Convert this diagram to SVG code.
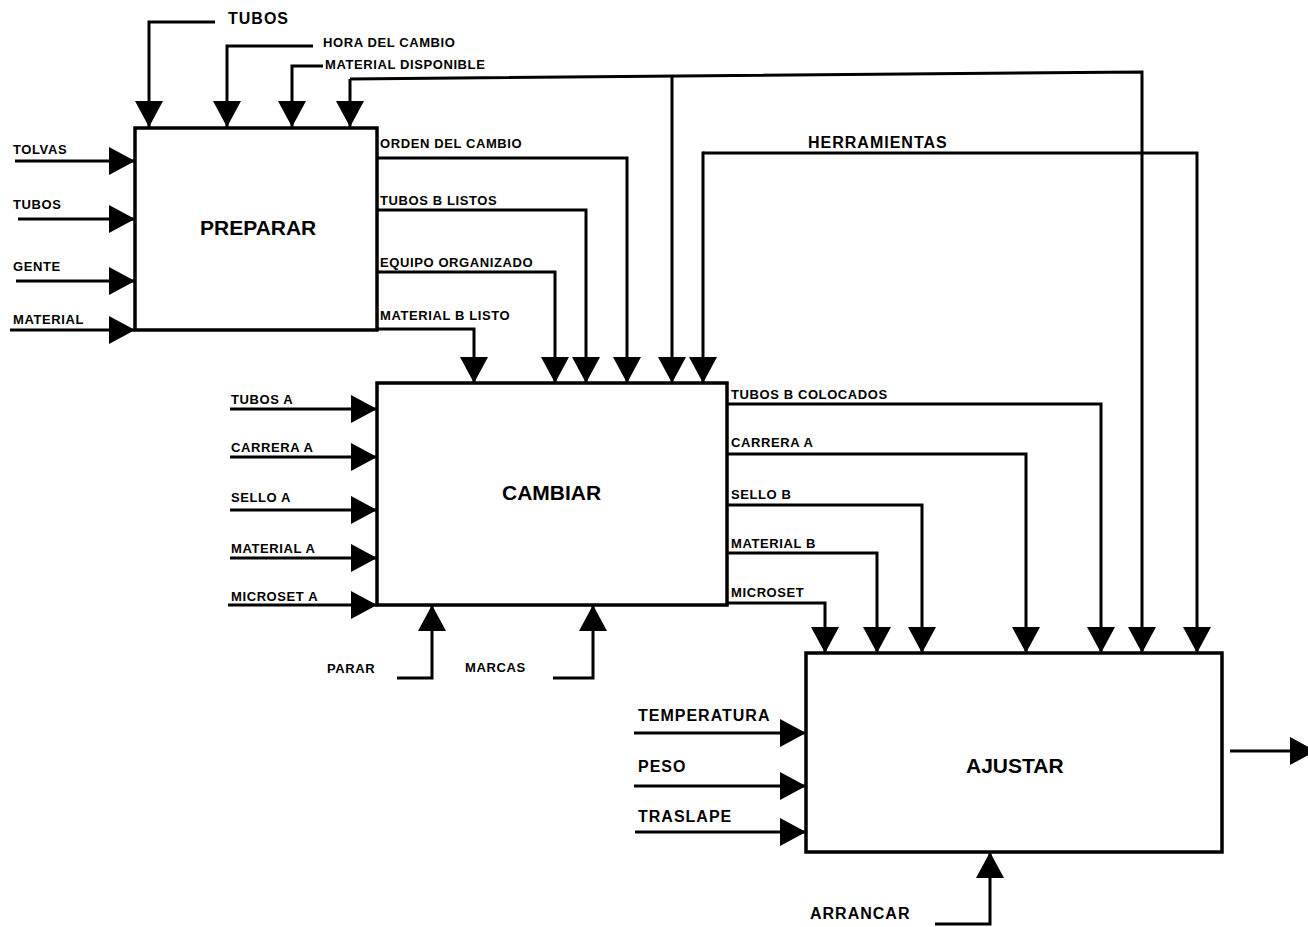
<svg xmlns="http://www.w3.org/2000/svg" width="1308" height="927" viewBox="0 0 1308 927">
<style>
  .box { fill: #fff; stroke: #000; stroke-width: 3.5; }
  .ln { fill: none; stroke: #000; stroke-width: 3; }
  .lbl { font-family: "Liberation Sans", Arial, sans-serif; font-weight: bold; font-size: 13px; letter-spacing: 0.6px; fill: #000; }
  .big { font-family: "Liberation Sans", Arial, sans-serif; font-weight: bold; font-size: 16px; letter-spacing: 1px; fill: #000; }
  .title { font-family: "Liberation Sans", Arial, sans-serif; font-weight: bold; font-size: 21px; fill: #000; }
</style>
<defs>
  <marker id="ah" markerUnits="userSpaceOnUse" markerWidth="26" markerHeight="28" viewBox="0 0 26 28" refX="26" refY="14" orient="auto">
    <path d="M0,0 L26,14 L0,28 Z" fill="#000"/>
  </marker>
</defs>
<rect width="1308" height="927" fill="#fff"/>

<g id="connectors">
  <!-- PREPARAR controls -->
  <path class="ln" d="M215,22 H149 V127" marker-end="url(#ah)"/>
  <path class="ln" d="M313,46 H227 V127" marker-end="url(#ah)"/>
  <path class="ln" d="M323,66 H292 V127" marker-end="url(#ah)"/>
  <path class="ln" d="M350,79 V127" marker-end="url(#ah)"/>
  <path class="ln" d="M350,79 L1142,72 V653" marker-end="url(#ah)"/>
  <path class="ln" d="M672,76 V383" marker-end="url(#ah)"/>
  <!-- HERRAMIENTAS -->
  <path class="ln" d="M703,153 H1197 V653" marker-end="url(#ah)"/>
  <path class="ln" d="M703,151.5 V383" marker-end="url(#ah)"/>
  <!-- PREPARAR inputs -->
  <path class="ln" d="M15,161 H135" marker-end="url(#ah)"/>
  <path class="ln" d="M18,219 H135" marker-end="url(#ah)"/>
  <path class="ln" d="M16,281 H135" marker-end="url(#ah)"/>
  <path class="ln" d="M10,330 H135" marker-end="url(#ah)"/>
  <!-- PREPARAR outputs -->
  <path class="ln" d="M377,158 H627 V383" marker-end="url(#ah)"/>
  <path class="ln" d="M377,210 H586 V383" marker-end="url(#ah)"/>
  <path class="ln" d="M377,272 H555 V383" marker-end="url(#ah)"/>
  <path class="ln" d="M377,329 H474 V383" marker-end="url(#ah)"/>
  <!-- CAMBIAR inputs -->
  <path class="ln" d="M230,409 H377" marker-end="url(#ah)"/>
  <path class="ln" d="M230,457 H377" marker-end="url(#ah)"/>
  <path class="ln" d="M230,510 H377" marker-end="url(#ah)"/>
  <path class="ln" d="M230,558 H377" marker-end="url(#ah)"/>
  <path class="ln" d="M228,605 H377" marker-end="url(#ah)"/>
  <path class="ln" d="M397,678 H432 V605" marker-end="url(#ah)"/>
  <path class="ln" d="M553,678 H593 V605" marker-end="url(#ah)"/>
  <!-- CAMBIAR outputs -->
  <path class="ln" d="M727,404 H1101 V653" marker-end="url(#ah)"/>
  <path class="ln" d="M727,454 H1026 V653" marker-end="url(#ah)"/>
  <path class="ln" d="M727,505 H922 V653" marker-end="url(#ah)"/>
  <path class="ln" d="M727,553 H877 V653" marker-end="url(#ah)"/>
  <path class="ln" d="M727,603 H825 V653" marker-end="url(#ah)"/>
  <!-- AJUSTAR inputs/output -->
  <path class="ln" d="M634,733 H806" marker-end="url(#ah)"/>
  <path class="ln" d="M634,786 H806" marker-end="url(#ah)"/>
  <path class="ln" d="M635,832 H806" marker-end="url(#ah)"/>
  <path class="ln" d="M935,924 H990 V852" marker-end="url(#ah)"/>
  <path class="ln" d="M1230,751 H1316" marker-end="url(#ah)"/>
</g>

<g id="preparar">
  <rect class="box" x="135" y="128" width="242" height="202"/>
  <text class="title" x="200" y="235" font-size="20">PREPARAR</text>
</g>
<g id="cambiar">
  <rect class="box" x="377" y="383" width="350" height="222"/>
  <text class="title" x="502" y="500">CAMBIAR</text>
</g>
<g id="ajustar">
  <rect class="box" x="806" y="653" width="416" height="199"/>
  <text class="title" x="966" y="773">AJUSTAR</text>
</g>

<g id="labels">
  <text class="big" x="228" y="24" letter-spacing="1.2">TUBOS</text>
  <text class="lbl" x="323" y="47" letter-spacing="0">HORA DEL CAMBIO</text>
  <text class="lbl" x="325" y="69" font-size="11.5" letter-spacing="0">MATERIAL DISPONIBLE</text>
  <text class="lbl" x="13" y="154" letter-spacing="0.9">TOLVAS</text>
  <text class="lbl" x="13" y="209">TUBOS</text>
  <text class="lbl" x="13" y="271">GENTE</text>
  <text class="lbl" x="13" y="324">MATERIAL</text>
  <text class="lbl" x="380" y="148" letter-spacing="0">ORDEN DEL CAMBIO</text>
  <text class="lbl" x="380" y="205">TUBOS B LISTOS</text>
  <text class="lbl" x="380" y="267">EQUIPO ORGANIZADO</text>
  <text class="lbl" x="380" y="320">MATERIAL B LISTO</text>
  <text class="big" x="808" y="148" letter-spacing="1.2">HERRAMIENTAS</text>
  <text class="lbl" x="231" y="404">TUBOS A</text>
  <text class="lbl" x="231" y="452">CARRERA A</text>
  <text class="lbl" x="231" y="502">SELLO A</text>
  <text class="lbl" x="231" y="553">MATERIAL A</text>
  <text class="lbl" x="231" y="601">MICROSET A</text>
  <text class="lbl" x="327" y="673">PARAR</text>
  <text class="lbl" x="465" y="672">MARCAS</text>
  <text class="lbl" x="731" y="399">TUBOS B COLOCADOS</text>
  <text class="lbl" x="731" y="447">CARRERA A</text>
  <text class="lbl" x="731" y="499">SELLO B</text>
  <text class="lbl" x="731" y="548">MATERIAL B</text>
  <text class="lbl" x="731" y="597">MICROSET</text>
  <text class="big" x="638" y="721" letter-spacing="0.9">TEMPERATURA</text>
  <text class="big" x="638" y="772" letter-spacing="0.9">PESO</text>
  <text class="big" x="638" y="822" letter-spacing="0.9">TRASLAPE</text>
  <text class="big" x="810" y="919" letter-spacing="0.9">ARRANCAR</text>
</g>
</svg>
